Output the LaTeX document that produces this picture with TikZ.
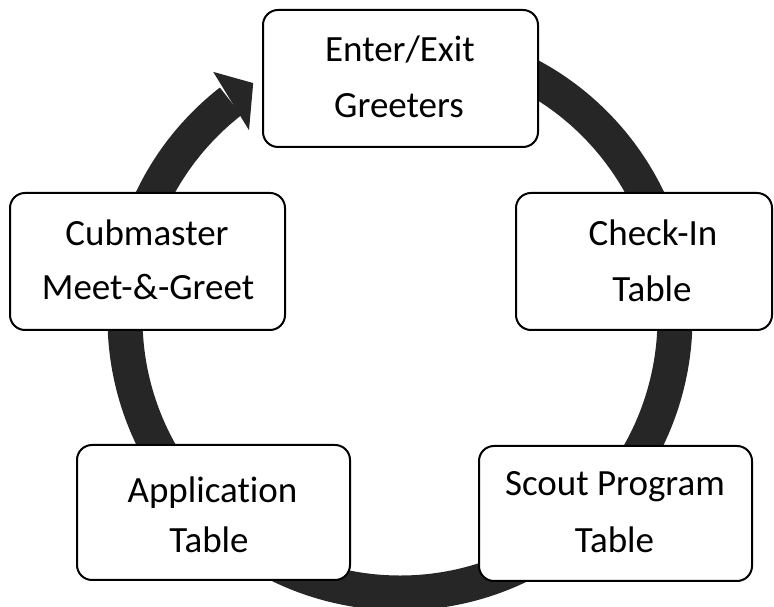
\documentclass[tikz,border=0pt]{standalone}
\usepackage{fontspec}
\setmainfont{Carlito}[Ligatures={NoCommon}]
\usetikzlibrary{calc}
\definecolor{ringgray}{RGB}{38,38,38}
\begin{document}
\begin{tikzpicture}[x=1pt,y=1pt,
  stagebox/.style={draw=black,line width=2pt,rounded corners=15pt,fill=white,inner sep=0pt},
  stagetext/.style={anchor=base,inner sep=0pt,font=\fontsize{37}{44}\selectfont}]
\useasboundingbox (0,0) rectangle (774,607);
% ring
\coordinate (ctr) at (400,289);
\draw[ringgray,line width=35pt] ($(ctr)+(128:275)$) arc[start angle=128,end angle=450,radius=275];
\fill[ringgray] ($(ctr)+(127.2:309)$) coordinate (headA) -- ($(ctr)+(122:277)$) coordinate (headTip) -- ($(ctr)+(128.8:241)$) coordinate (headB) -- cycle;
% boxes
\node[stagebox,minimum width=275pt,minimum height=137pt] (enter) at (400.5,528.5) {};
\node[stagebox,minimum width=275pt,minimum height=137pt] (cub) at (147.5,345.5) {};
\node[stagebox,minimum width=256pt,minimum height=137pt] (check) at (644,345.5) {};
\node[stagebox,minimum width=273pt,minimum height=135pt] (app) at (213.5,94.5) {};
\node[stagebox,minimum width=273pt,minimum height=135pt] (scout) at (615.5,93.5) {};
% texts
\node[stagetext] (enterA) at (400,545) {Enter/Exit};
\node[stagetext] (enterB) at (399,489) {Greeters};
\node[stagetext] (cubA) at (147,361) {Cubmaster};
\node[stagetext] (cubB) at (148,307) {Meet-\&-Greet};
\node[stagetext] (checkA) at (653,361) {Check-In};
\node[stagetext] (checkB) at (652,305) {Table};
\node[stagetext] (appA) at (212.5,104) {Application};
\node[stagetext] (appB) at (209,54) {Table};
\node[stagetext] (scoutA) at (615,111) {Scout Program};
\node[stagetext] (scoutB) at (614.5,54) {Table};
\end{tikzpicture}
\end{document}
